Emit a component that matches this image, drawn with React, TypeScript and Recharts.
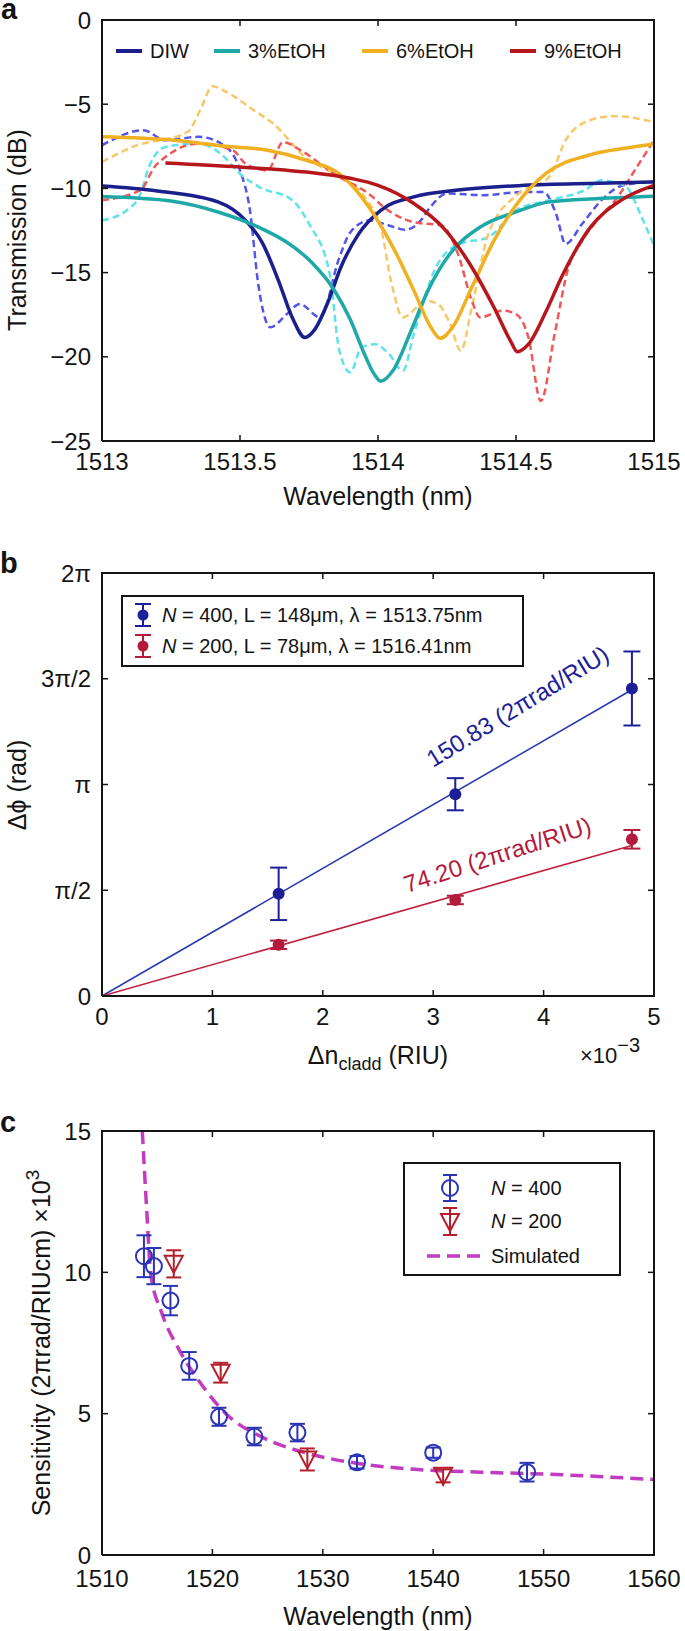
import React from 'react';
import {
  LineChart,
  ComposedChart,
  Line,
  Scatter,
  XAxis,
  YAxis,
  ErrorBar,
  Legend,
} from 'recharts';

const FONT = '"Liberation Sans", Arial, Helvetica, sans-serif';
const INK = '#141414';

type Pt = [number, number];
const toXY = (pts: Pt[]) => pts.map(([x, y]) => ({ x, y }));

// ---------- panel a: transmission spectra ----------
const A_X_TICKS = [1513, 1513.5, 1514, 1514.5, 1515];
const A_Y_TICKS = [-25, -20, -15, -10, -5, 0];
const A_NAMES = ['DIW', '3%EtOH', '6%EtOH', '9%EtOH'];
const A_FIT_COLORS = ['#1b1f8c', '#1fa8a8', '#f0b021', '#b5171c'];
const A_MEAS_COLORS = ['#5454e6', '#5fe2e8', '#f7c86a', '#f05757'];

const DIW_FIT: Pt[] = [
  [1513.0, -9.86], [1513.2, -10.15], [1513.42, -10.8], [1513.52, -11.9], [1513.58, -13.2],
  [1513.64, -15.5], [1513.69, -17.7], [1513.735, -18.85], [1513.77, -18.4], [1513.82, -16.7],
  [1513.865, -14.7], [1513.93, -12.7], [1514.01, -11.3], [1514.13, -10.5], [1514.29, -10.1],
  [1514.53, -9.82], [1514.8, -9.7], [1515.0, -9.62],
];
const ETOH3_FIT: Pt[] = [
  [1513.0, -10.48], [1513.25, -10.75], [1513.42, -11.4], [1513.58, -12.4], [1513.67, -13.2],
  [1513.76, -14.4], [1513.84, -16.0], [1513.9, -17.8], [1513.95, -19.8], [1513.985, -21.0],
  [1514.01, -21.45], [1514.055, -20.8], [1514.12, -18.45], [1514.18, -16.1], [1514.26, -13.9],
  [1514.37, -12.3], [1514.5, -11.4], [1514.62, -10.8], [1514.8, -10.6], [1515.0, -10.46],
];
const ETOH6_FIT: Pt[] = [
  [1513.0, -6.94], [1513.26, -7.14], [1513.45, -7.5], [1513.6, -7.74], [1513.74, -8.33],
  [1513.86, -9.13], [1513.93, -10.3], [1514.006, -12.1], [1514.07, -14.0], [1514.13, -16.07],
  [1514.19, -18.2], [1514.225, -18.9], [1514.27, -18.25], [1514.34, -15.87], [1514.42, -13.1],
  [1514.5, -11.0], [1514.61, -9.1], [1514.77, -8.0], [1514.9, -7.6], [1515.0, -7.36],
];
const ETOH9_FIT: Pt[] = [
  [1513.23, -8.49], [1513.5, -8.73], [1513.74, -9.03], [1513.9, -9.4], [1514.0, -9.82],
  [1514.13, -10.9], [1514.24, -12.4], [1514.34, -14.68], [1514.42, -17.06], [1514.48, -19.05],
  [1514.505, -19.7], [1514.545, -19.25], [1514.61, -17.26], [1514.67, -15.1], [1514.77, -12.3],
  [1514.88, -10.71], [1515.0, -9.82],
];

const DIW_MEAS: Pt[] = [
  [1513.0, -7.44], [1513.15, -6.55], [1513.23, -7.14], [1513.35, -6.94], [1513.45, -7.54],
  [1513.5, -8.93], [1513.536, -11.3], [1513.566, -15.67], [1513.61, -18.25], [1513.67, -17.46],
  [1513.717, -16.87], [1513.79, -17.66], [1513.86, -14.1], [1513.9, -12.6], [1513.97, -11.9],
  [1514.04, -12.2], [1514.1, -12.45], [1514.15, -12.0], [1514.19, -11.1], [1514.25, -10.3],
  [1514.38, -10.4], [1514.525, -10.22], [1514.6, -10.22], [1514.645, -11.5], [1514.68, -13.3],
  [1514.74, -12.1], [1514.81, -10.7], [1514.887, -9.82], [1515.0, -9.6],
];
const ETOH3_MEAS: Pt[] = [
  [1513.0, -11.9], [1513.09, -11.3], [1513.14, -10.3], [1513.17, -8.73], [1513.23, -7.54],
  [1513.35, -7.34], [1513.43, -7.94], [1513.5, -9.13], [1513.57, -9.92], [1513.69, -10.7],
  [1513.75, -12.1], [1513.825, -15.08], [1513.86, -19.64], [1513.9, -20.93], [1513.94, -19.44],
  [1513.99, -19.25], [1514.04, -19.84], [1514.09, -20.83], [1514.13, -18.65], [1514.21, -14.68],
  [1514.296, -13.3], [1514.4, -12.9], [1514.5, -11.3], [1514.62, -10.7], [1514.75, -10.1],
  [1514.81, -9.52], [1514.85, -9.62], [1514.9, -9.92], [1514.955, -11.7], [1515.0, -13.4],
];
const ETOH6_MEAS: Pt[] = [
  [1513.0, -8.43], [1513.11, -7.54], [1513.31, -6.65], [1513.36, -5.2], [1513.4, -3.93],
  [1513.45, -4.27], [1513.55, -5.36], [1513.62, -6.15], [1513.74, -8.2], [1513.84, -9.13],
  [1513.96, -10.7], [1514.01, -12.3], [1514.05, -15.7], [1514.09, -17.66], [1514.175, -16.67],
  [1514.22, -16.9], [1514.26, -18.0], [1514.3, -19.64], [1514.34, -17.06], [1514.4, -12.7],
  [1514.51, -10.3], [1514.62, -9.33], [1514.68, -7.14], [1514.74, -6.15], [1514.85, -5.71],
  [1514.92, -5.8], [1515.0, -6.05],
];
const ETOH9_MEAS: Pt[] = [
  [1513.0, -10.7], [1513.14, -10.1], [1513.19, -8.73], [1513.23, -8.13], [1513.35, -7.34],
  [1513.475, -7.74], [1513.52, -8.53], [1513.6, -8.93], [1513.656, -7.24], [1513.72, -7.74],
  [1513.84, -9.13], [1513.98, -10.5], [1514.02, -11.1], [1514.13, -12.0], [1514.23, -12.2],
  [1514.29, -13.9], [1514.34, -16.67], [1514.37, -17.66], [1514.45, -17.26], [1514.5, -17.46],
  [1514.545, -18.85], [1514.59, -22.62], [1514.64, -18.65], [1514.69, -14.68], [1514.74, -13.1],
  [1514.81, -11.6], [1514.86, -10.7], [1514.935, -8.8], [1515.0, -7.14],
];
const A_FITS = [DIW_FIT, ETOH3_FIT, ETOH6_FIT, ETOH9_FIT];
const A_MEAS = [DIW_MEAS, ETOH3_MEAS, ETOH6_MEAS, ETOH9_MEAS];

// ---------- panel b: phase shift vs cladding index ----------
const B_X_TICKS = [0, 1, 2, 3, 4, 5];
const B_Y_TICKS = [0, 0.5, 1, 1.5, 2]; // multiples of pi
const B_Y_LABELS = ['0', 'π/2', 'π', '3π/2', '2π'];
const B_DN = [1.6, 3.2, 4.8];
const B_N400_PHASE = [0.483, 0.954, 1.454];
const B_N400_ERR = [0.124, 0.076, 0.175];
const B_N200_PHASE = [0.242, 0.454, 0.741];
const B_N200_ERR = [0.02, 0.02, 0.044];
const B_N400_FIT: Pt[] = [[0, 0], [4.8, 1.448]];
const B_N200_FIT: Pt[] = [[0, 0], [4.8, 0.712]];
const B_LABELS = ['N400', 'N200'];
const B_BLUE = '#1d1f98';
const B_RED = '#b31b3c';

// ---------- panel c: sensitivity vs wavelength ----------
const C_X_TICKS = [1510, 1520, 1530, 1540, 1550, 1560];
const C_Y_TICKS = [0, 5, 10, 15];
const C_N400_WL = [1513.8, 1514.7, 1516.2, 1517.9, 1520.6, 1523.8, 1527.7, 1533.1, 1540.0, 1548.5];
const C_N400_S = [10.57, 10.22, 9.0, 6.69, 4.89, 4.19, 4.33, 3.28, 3.62, 2.93];
const C_N400_ERR = [0.74, 0.64, 0.52, 0.49, 0.32, 0.31, 0.31, 0.22, 0.18, 0.33];
const C_N200_WL = [1516.5, 1520.75, 1528.6, 1540.9];
const C_N200_S = [10.3, 6.45, 3.38, 2.8];
const C_N200_ERR = [0.48, 0.35, 0.39, 0.23];
const C_SIM: Pt[] = [
  [1513.65, 15.0], [1514.05, 12.2], [1514.42, 9.95], [1515.4, 8.58], [1517.0, 7.25],
  [1519.0, 6.04], [1521.3, 4.97], [1524.5, 4.17], [1528.5, 3.61], [1533.2, 3.24],
  [1538.3, 3.03], [1544.3, 2.93], [1550.2, 2.86], [1560.0, 2.67],
];
const C_BLUE = '#2a34b4';
const C_RED = '#b51f2c';
const C_SIM_COLOR = '#c13cc1';

const b400 = B_DN.map((x, i) => ({ x, y: B_N400_PHASE[i], err: B_N400_ERR[i] }));
const b200 = B_DN.map((x, i) => ({ x, y: B_N200_PHASE[i], err: B_N200_ERR[i] }));
const c400 = C_N400_WL.map((x, i) => ({ x, y: C_N400_S[i], err: C_N400_ERR[i] }));
const c200 = C_N200_WL.map((x, i) => ({ x, y: C_N200_S[i], err: C_N200_ERR[i] }));

const AXIS_LINE = { stroke: INK, strokeWidth: 2 };
const TICK_LINE = { stroke: INK, strokeWidth: 1.5 };
const TICK = { fill: INK, fontSize: 24, fontFamily: FONT };
const minus = (v: number) => (v < 0 ? '\u2212' + Math.abs(v) : String(v));

// plot boxes (page pixels) shared by the charts and the frame overlay
const PLOT_L = 102;
const PLOT_R = 654;
const BOX_A = { top: 20, bottom: 441 };
const BOX_B = { top: 573, bottom: 996 };
const BOX_C = { top: 1131, bottom: 1555 };

// closes each plot with the top and right edges, ticks pointing inward
function Frame({
  top, bottom, xDomain, xTicks, yDomain, yTicks,
}: {
  top: number; bottom: number; xDomain: number[]; xTicks: number[]; yDomain: number[]; yTicks: number[];
}) {
  const px = (v: number) => PLOT_L + ((v - xDomain[0]) / (xDomain[1] - xDomain[0])) * (PLOT_R - PLOT_L);
  const py = (v: number) => bottom - ((v - yDomain[0]) / (yDomain[1] - yDomain[0])) * (bottom - top);
  return (
    <g stroke={INK} fill="none">
      <path d={`M${PLOT_L - 1},${top} H${PLOT_R} V${bottom + 1}`} strokeWidth={2} />
      {xTicks.map((t) => (
        <line key={'x' + t} x1={px(t)} x2={px(t)} y1={top} y2={top + 6} strokeWidth={1.5} />
      ))}
      {yTicks.map((t) => (
        <line key={'y' + t} x1={PLOT_R} x2={PLOT_R - 6} y1={py(t)} y2={py(t)} strokeWidth={1.5} />
      ))}
    </g>
  );
}

function LegendA() {
  const lineX = [116, 214, 362, 510];
  return (
    <div style={{ position: 'relative', width: 685, height: 80, fontFamily: FONT, fontSize: 20, color: INK }}>
      {A_NAMES.map((n, i) => (
        <React.Fragment key={n}>
          <div style={{ position: 'absolute', left: lineX[i], top: 49, width: 26, height: 4, background: A_FIT_COLORS[i] }} />
          <div style={{ position: 'absolute', left: lineX[i] + 34, top: 39, lineHeight: '24px', whiteSpace: 'nowrap' }}>{n}</div>
        </React.Fragment>
      ))}
    </div>
  );
}

function LegendB() {
  const rows = [
    { color: B_BLUE, n: '400', rest: ', L = 148μm, λ = 1513.75nm', cy: 18 },
    { color: B_RED, n: '200', rest: ', L = 78μm, λ = 1516.41nm', cy: 49 },
  ];
  return (
    <div
      style={{
        position: 'relative', width: 403, height: 72, boxSizing: 'border-box', border: `2px solid ${INK}`,
        background: '#fff', fontFamily: FONT, fontSize: 20, color: INK,
      }}
    >
      {rows.map((r, i) => (
        <React.Fragment key={B_LABELS[i]}>
          <svg width={36} height={26} style={{ position: 'absolute', left: 2, top: r.cy - 13 }}>
            <line x1={18} x2={18} y1={2} y2={24} stroke={r.color} strokeWidth={2} />
            <line x1={10} x2={26} y1={2} y2={2} stroke={r.color} strokeWidth={2} />
            <line x1={10} x2={26} y1={24} y2={24} stroke={r.color} strokeWidth={2} />
            <circle cx={18} cy={13} r={5.5} fill={r.color} />
          </svg>
          <div style={{ position: 'absolute', left: 39, top: r.cy - 12, lineHeight: '24px', whiteSpace: 'nowrap' }}>
            <i>N</i> = {r.n}
            {r.rest}
          </div>
        </React.Fragment>
      ))}
    </div>
  );
}

function LegendC() {
  return (
    <div
      style={{
        position: 'relative', width: 218, height: 114, boxSizing: 'border-box', border: `2px solid ${INK}`,
        background: '#fff', fontFamily: FONT, fontSize: 20, color: INK,
      }}
    >
      <svg width={90} height={110} style={{ position: 'absolute', left: 0, top: 0 }}>
        <line x1={45} x2={45} y1={11} y2={37} stroke={C_BLUE} strokeWidth={2} />
        <line x1={38} x2={52} y1={11} y2={11} stroke={C_BLUE} strokeWidth={2} />
        <line x1={38} x2={52} y1={37} y2={37} stroke={C_BLUE} strokeWidth={2} />
        <circle cx={45} cy={24} r={8} fill="none" stroke={C_BLUE} strokeWidth={2} />
        <line x1={45} x2={45} y1={44} y2={71} stroke={C_RED} strokeWidth={2} />
        <line x1={38} x2={52} y1={44} y2={44} stroke={C_RED} strokeWidth={2} />
        <line x1={38} x2={52} y1={71} y2={71} stroke={C_RED} strokeWidth={2} />
        <path d="M36,50 L54,50 L45,67 Z" fill="none" stroke={C_RED} strokeWidth={2} />
        <line x1={22} x2={76} y1={92} y2={92} stroke={C_SIM_COLOR} strokeWidth={3.5} strokeDasharray="13 7" />
      </svg>
      <div style={{ position: 'absolute', left: 86, top: 12, lineHeight: '24px', whiteSpace: 'nowrap' }}>
        <i>N</i> = 400
      </div>
      <div style={{ position: 'absolute', left: 86, top: 45, lineHeight: '24px', whiteSpace: 'nowrap' }}>
        <i>N</i> = 200
      </div>
      <div style={{ position: 'absolute', left: 86, top: 80, lineHeight: '24px', whiteSpace: 'nowrap' }}>
        Simulated
      </div>
    </div>
  );
}

const openCircle = (p: any) => (
  <circle cx={p.cx} cy={p.cy} r={8} fill="none" stroke={C_BLUE} strokeWidth={2} />
);
const downTriangle = (p: any) => (
  <path
    d={`M${p.cx - 9},${p.cy - 8} L${p.cx + 9},${p.cy - 8} L${p.cx},${p.cy + 9} Z`}
    fill="none"
    stroke={C_RED}
    strokeWidth={2}
  />
);
const dot = (color: string) => (p: any) => <circle cx={p.cx} cy={p.cy} r={6} fill={color} />;

export default function App() {
  return (
    <div style={{ position: 'absolute', left: 0, top: 0, width: 685, height: 1631, background: '#fff' }}>
      {/* a */}
      <div style={{ position: 'absolute', left: 0, top: 0 }}>
        <LineChart width={685} height={520} margin={{ top: BOX_A.top, right: 685 - PLOT_R, bottom: 0, left: 0 }}>
          <XAxis
            type="number"
            dataKey="x"
            domain={[1513, 1515]}
            ticks={A_X_TICKS}
            interval={0}
            height={520 - BOX_A.bottom}
            tickSize={-6}
            tickMargin={18}
            axisLine={AXIS_LINE}
            tickLine={TICK_LINE}
            tick={TICK}
            allowDataOverflow
          />
          <YAxis
            type="number"
            domain={[-25, 0]}
            ticks={A_Y_TICKS}
            interval={0}
            width={PLOT_L}
            tickSize={-6}
            tickMargin={17}
            tickFormatter={minus}
            axisLine={AXIS_LINE}
            tickLine={TICK_LINE}
            tick={TICK}
            allowDataOverflow
          />
          {A_MEAS.map((s, i) => (
            <Line
              key={'m' + i}
              data={toXY(s)}
              dataKey="y"
              type="monotone"
              stroke={A_MEAS_COLORS[i]}
              strokeWidth={2.5}
              strokeDasharray="7 4"
              dot={false}
              activeDot={false}
              isAnimationActive={false}
            />
          ))}
          {A_FITS.map((s, i) => (
            <Line
              key={'f' + i}
              data={toXY(s)}
              dataKey="y"
              name={A_NAMES[i]}
              type="monotone"
              stroke={A_FIT_COLORS[i]}
              strokeWidth={3.5}
              dot={false}
              activeDot={false}
              isAnimationActive={false}
            />
          ))}
          <Legend
            layout="horizontal"
            verticalAlign="middle"
            align="center"
            wrapperStyle={{ left: 0, top: 0, width: 685, height: 80 }}
            content={() => <LegendA />}
          />
        </LineChart>
      </div>

      {/* b */}
      <div style={{ position: 'absolute', left: 0, top: 520 }}>
        <ComposedChart width={685} height={560} margin={{ top: BOX_B.top - 520, right: 685 - PLOT_R, bottom: 0, left: 0 }}>
          <XAxis
            type="number"
            dataKey="x"
            domain={[0, 5]}
            ticks={B_X_TICKS}
            interval={0}
            height={1080 - BOX_B.bottom}
            tickSize={-6}
            tickMargin={18}
            axisLine={AXIS_LINE}
            tickLine={TICK_LINE}
            tick={TICK}
            allowDataOverflow
          />
          <YAxis
            type="number"
            dataKey="y"
            domain={[0, 2]}
            ticks={B_Y_TICKS}
            interval={0}
            width={PLOT_L}
            tickSize={-6}
            tickMargin={17}
            tickFormatter={(v: number) => B_Y_LABELS[B_Y_TICKS.indexOf(v)] ?? ''}
            axisLine={AXIS_LINE}
            tickLine={TICK_LINE}
            tick={TICK}
            allowDataOverflow
          />
          <Line data={toXY(B_N400_FIT)} dataKey="y" type="linear" stroke="#2c3ab0" strokeWidth={1.6} dot={false} activeDot={false} isAnimationActive={false} />
          <Line data={toXY(B_N200_FIT)} dataKey="y" type="linear" stroke="#c0223f" strokeWidth={1.6} dot={false} activeDot={false} isAnimationActive={false} />
          <Scatter data={b400} dataKey="y" shape={dot(B_BLUE)} isAnimationActive={false}>
            <ErrorBar dataKey="err" direction="y" width={8.5} stroke={B_BLUE} strokeWidth={2} isAnimationActive={false} />
          </Scatter>
          <Scatter data={b200} dataKey="y" shape={dot(B_RED)} isAnimationActive={false}>
            <ErrorBar dataKey="err" direction="y" width={8.5} stroke={B_RED} strokeWidth={2} isAnimationActive={false} />
          </Scatter>
          <Legend
            layout="horizontal"
            verticalAlign="middle"
            align="center"
            wrapperStyle={{ left: 121, top: 75, width: 403, height: 72 }}
            content={() => <LegendB />}
          />
        </ComposedChart>
      </div>

      {/* c */}
      <div style={{ position: 'absolute', left: 0, top: 1080 }}>
        <ComposedChart width={685} height={551} margin={{ top: BOX_C.top - 1080, right: 685 - PLOT_R, bottom: 0, left: 0 }}>
          <XAxis
            type="number"
            dataKey="x"
            domain={[1510, 1560]}
            ticks={C_X_TICKS}
            interval={0}
            height={1631 - BOX_C.bottom}
            tickSize={-6}
            tickMargin={21}
            axisLine={AXIS_LINE}
            tickLine={TICK_LINE}
            tick={TICK}
            allowDataOverflow
          />
          <YAxis
            type="number"
            dataKey="y"
            domain={[0, 15]}
            ticks={C_Y_TICKS}
            interval={0}
            width={PLOT_L}
            tickSize={-6}
            tickMargin={17}
            axisLine={AXIS_LINE}
            tickLine={TICK_LINE}
            tick={TICK}
            allowDataOverflow
          />
          <Line
            data={toXY(C_SIM)}
            dataKey="y"
            type="monotone"
            stroke={C_SIM_COLOR}
            strokeWidth={3.5}
            strokeDasharray="13 7"
            dot={false}
            activeDot={false}
            isAnimationActive={false}
          />
          <Scatter data={c400} dataKey="y" shape={openCircle} isAnimationActive={false}>
            <ErrorBar dataKey="err" direction="y" width={7.5} stroke={C_BLUE} strokeWidth={2} isAnimationActive={false} />
          </Scatter>
          <Scatter data={c200} dataKey="y" shape={downTriangle} isAnimationActive={false}>
            <ErrorBar dataKey="err" direction="y" width={7.5} stroke={C_RED} strokeWidth={2} isAnimationActive={false} />
          </Scatter>
          <Legend
            layout="horizontal"
            verticalAlign="middle"
            align="center"
            wrapperStyle={{ left: 403, top: 82, width: 218, height: 114 }}
            content={() => <LegendC />}
          />
        </ComposedChart>
      </div>

      {/* frame edges, titles, panel letters and slope notes */}
      <svg
        width={685}
        height={1631}
        style={{ position: 'absolute', left: 0, top: 0, pointerEvents: 'none' }}
        fontFamily={FONT}
        fill={INK}
      >
        <Frame {...BOX_A} xDomain={[1513, 1515]} xTicks={A_X_TICKS} yDomain={[-25, 0]} yTicks={A_Y_TICKS} />
        <Frame {...BOX_B} xDomain={[0, 5]} xTicks={B_X_TICKS} yDomain={[0, 2]} yTicks={B_Y_TICKS} />
        <Frame {...BOX_C} xDomain={[1510, 1560]} xTicks={C_X_TICKS} yDomain={[0, 15]} yTicks={C_Y_TICKS} />

        <text x={1} y={19} fontSize={29} fontWeight="bold">a</text>
        <text x={0} y={573} fontSize={29} fontWeight="bold">b</text>
        <text x={0} y={1132} fontSize={29} fontWeight="bold">c</text>

        <text transform="translate(26,230) rotate(-90)" textAnchor="middle" fontSize={25}>Transmission (dB)</text>
        <text x={378} y={505} textAnchor="middle" fontSize={25}>Wavelength (nm)</text>

        <text transform="translate(26,785) rotate(-90)" textAnchor="middle" fontSize={25}>Δϕ (rad)</text>
        <text x={378} y={1064} textAnchor="middle" fontSize={25}>
          Δn<tspan fontSize={18} dy={6}>cladd</tspan>
          <tspan dy={-6}> (RIU)</tspan>
        </text>
        <text x={580} y={1063} fontSize={22}>
          ×10<tspan fontSize={20} dy={-11}>−3</tspan>
        </text>
        <text transform="translate(433,768) rotate(-31.5)" fontSize={24} fill={B_BLUE}>150.83 (2πrad/RIU)</text>
        <text transform="translate(407,893) rotate(-18)" fontSize={24} fill={B_RED}>74.20 (2πrad/RIU)</text>

        <text transform="translate(50,1343) rotate(-90)" textAnchor="middle" fontSize={25}>
          Sensitivity (2πrad/RIUcm) ×10<tspan fontSize={19} dy={-11}>3</tspan>
        </text>
        <text x={378} y={1625} textAnchor="middle" fontSize={25}>Wavelength (nm)</text>
      </svg>
    </div>
  );
}
